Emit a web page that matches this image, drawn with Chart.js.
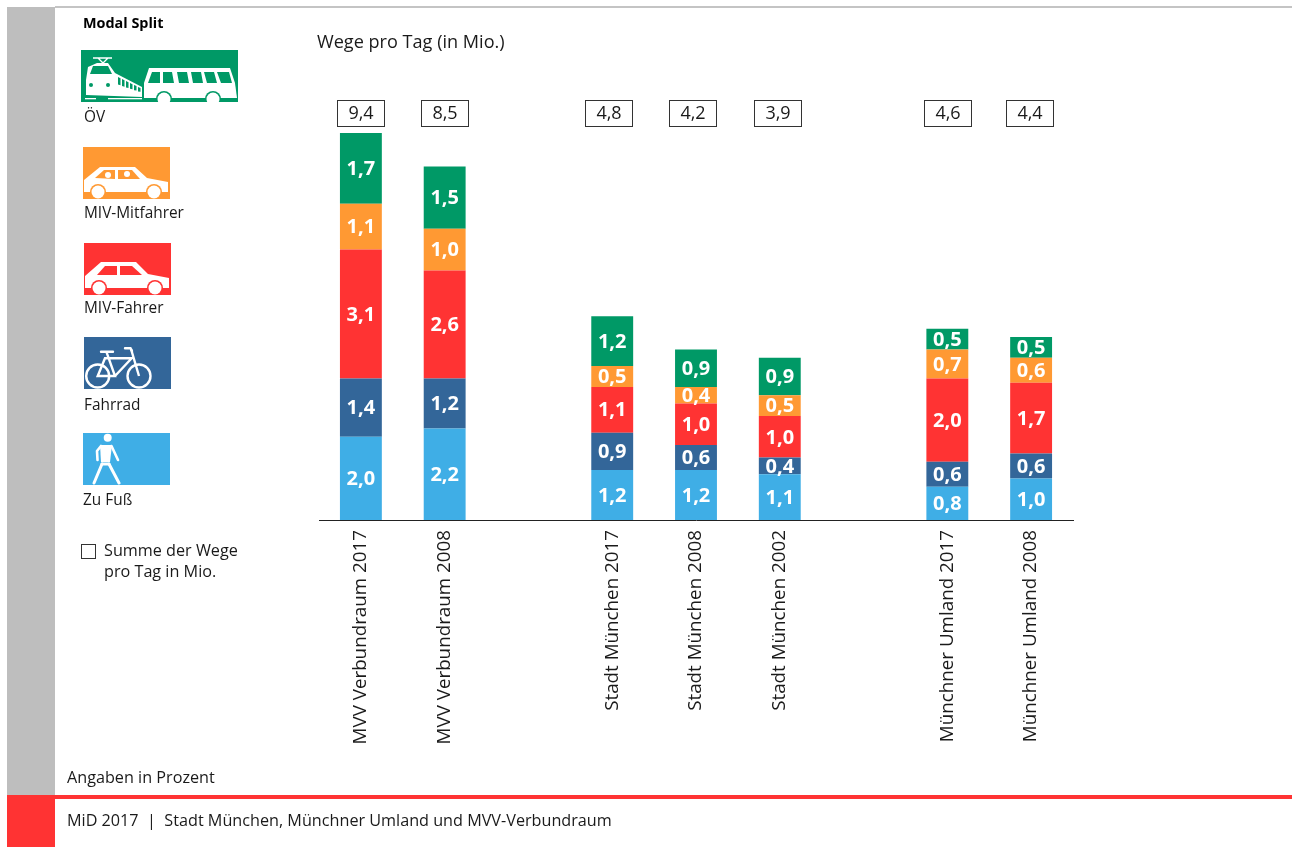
<!DOCTYPE html>
<html lang="de">
<head>
<meta charset="utf-8">
<title>Modal Split</title>
<script src="https://cdn.jsdelivr.net/npm/chart.js@4"></script>
<style>
html,body{margin:0;padding:0;background:#fff;width:1292px;height:847px;overflow:hidden;font-family:"Open Sans",sans-serif;color:#1a1a1a}
.a{position:absolute;white-space:nowrap;line-height:1}
#chart{position:absolute;left:0;top:0;width:1292px;height:847px}
svg{position:absolute;display:block}
</style>
</head>
<body>
<div class="a" style="left:7px;top:7px;width:48px;height:788px;background:#bebebe"></div>
<div class="a" style="left:55px;top:6px;width:1237px;height:2px;background:#c4c4c4"></div>
<div class="a" style="left:7px;top:795px;width:48px;height:52px;background:#ff3333"></div>
<div class="a" style="left:55px;top:795px;width:1237px;height:4px;background:#ff3333"></div>
<canvas id="chart" width="1292" height="847"></canvas>

<div class="a" style="left:83px;top:16px;font-size:14.4px;font-weight:700;color:#000">Modal Split</div>
<div class="a" style="left:317px;top:32px;font-size:18.1px">Wege pro Tag (in Mio.)</div>

<svg style="left:81px;top:50px" width="157" height="52" viewBox="0 0 157 52">
  <rect width="157" height="52" fill="#009966"/>
  <g fill="#fff">
    <path d="M5 30 7 17 16 13H27L34 23 61 37V47L5 45Z"/>
    <path d="M63 47V33L68 18H149L154 33 156 48H63Z"/>
    <rect x="4" y="48" width="57" height="1.3"/>
  </g>
  <path d="M12 8H31M17 8 22 13 27 8" stroke="#fff" stroke-width="1.3" fill="none"/>
  <g fill="#009966">
    <path d="M9 24 12 16H27L31 24Z"/>
    <circle cx="10" cy="35" r="2"/><circle cx="27" cy="35" r="2"/>
    <path d="M37 27l2.500 1.300v7l-2.500-.8zM41 29l2.500 1.300v6.500l-2.500-.7zM45 31l2.500 1.200v5.800l-2.500-.6zM49 33l2.500 1.200v5l-2.500-.4zM53 35l2.500 1.100v4.500l-2.500-.3zM57 37l2.500 1v3.800l-2.500-.2z"/>
    <path d="M67 33 71 22H79V33ZM82 22H91L93 33H82ZM96 22H106L108 33H98ZM110 22H120L122 33H112ZM123 22H133L136 33H126ZM136 22H148L151 33H140Z"/>
    <circle cx="83" cy="49" r="8"/><circle cx="132" cy="49" r="8"/>
    <rect x="15" y="47" width="12" height="3"/>
  </g>
  <circle cx="83" cy="49" r="6.500" fill="#fff"/><circle cx="132" cy="49" r="6.500" fill="#fff"/>
</svg>
<div class="a" style="left:84px;top:109px;font-size:15.4px">ÖV</div>

<svg style="left:83px;top:147px" width="87" height="52" viewBox="0 0 87 52">
  <rect width="87" height="52" fill="#ff9933"/>
  <path d="M1 33 17 20H52L64 31 85 35V45H1Z" fill="#fff"/>
  <g fill="#ff9933">
    <path d="M12 31 21 23H32V32Z"/><path d="M35 23H49L57 32H35Z"/>
    <circle cx="15" cy="45" r="8"/><circle cx="71" cy="45" r="8"/>
  </g>
  <g fill="#fff">
    <circle cx="25" cy="28" r="3"/><circle cx="44" cy="27" r="3"/>
    <circle cx="15" cy="45" r="6.500"/><circle cx="71" cy="45" r="6.500"/>
  </g>
</svg>
<div class="a" style="left:84px;top:205px;font-size:15.4px">MIV-Mitfahrer</div>

<svg style="left:84px;top:243px" width="87" height="52" viewBox="0 0 87 52">
  <rect width="87" height="52" fill="#ff3333"/>
  <path d="M1 33 17 19H52L64 31 85 35V45H1Z" fill="#fff"/>
  <g fill="#ff3333">
    <path d="M13 32 21 23H33V32Z"/><path d="M36 23H48L58 32H36Z"/>
    <circle cx="15" cy="45" r="8"/><circle cx="71" cy="45" r="8"/>
  </g>
  <g fill="#fff"><circle cx="15" cy="45" r="6.500"/><circle cx="71" cy="45" r="6.500"/></g>
</svg>
<div class="a" style="left:84px;top:300px;font-size:15.4px">MIV-Fahrer</div>

<svg style="left:84px;top:337px" width="87" height="52" viewBox="0 0 87 52">
  <rect width="87" height="52" fill="#336699"/>
  <g fill="none" stroke="#fff" stroke-width="2.400">
    <circle cx="13.700" cy="39" r="11.500"/><circle cx="55" cy="39" r="11.500"/>
    <path d="M22.700 15.700 31 39H13.700L21 21.300H47.700L31 39M47 12 55 39"/>
    <path d="M17 14.700H29M41 11.300H46.500L48 14" stroke-linecap="round"/>
  </g>
</svg>
<div class="a" style="left:84px;top:397px;font-size:15.4px">Fahrrad</div>

<svg style="left:83px;top:433px" width="87" height="52" viewBox="0 0 87 52">
  <rect width="87" height="52" fill="#3faee6"/>
  <circle cx="24.700" cy="4.700" r="4" fill="#fff"/>
  <path d="M17 12H29L27 29H18Z" fill="#fff"/>
  <g fill="none" stroke="#fff" stroke-width="2.600" stroke-linejoin="round" stroke-linecap="round">
    <path d="M18 13 14 18 14.500 27M28.500 13 35 27"/>
    <path d="M26 31 36 50" stroke-width="3"/><path d="M19 31 11 50" stroke-width="3"/>
    <path d="M19 31H26" stroke-width="3"/>
  </g>
</svg>
<div class="a" style="left:83px;top:492px;font-size:15.4px">Zu Fuß</div>

<div class="a" style="left:81px;top:544px;width:13px;height:13px;border:1px solid #333"></div>
<div class="a" style="left:104px;top:542px;font-size:16.2px">Summe der Wege</div>
<div class="a" style="left:104px;top:563px;font-size:16.2px">pro Tag in Mio.</div>

<div class="a" style="left:67px;top:769px;font-size:16.2px">Angaben in Prozent</div>
<div class="a" style="left:67px;top:812px;font-size:16.2px">MiD 2017&nbsp; |&nbsp; Stadt München, Münchner Umland und MVV-Verbundraum</div>

<script>
const categories = ["MVV Verbundraum 2017","MVV Verbundraum 2008","","Stadt München 2017","Stadt München 2008","Stadt München 2002","","Münchner Umland 2017","Münchner Umland 2008"];
const zuFuss      = [2.0,2.2,null,1.2,1.2,1.1,null,0.8,1.0];
const fahrrad     = [1.4,1.2,null,0.9,0.6,0.4,null,0.6,0.6];
const mivFahrer   = [3.1,2.6,null,1.1,1.0,1.0,null,2.0,1.7];
const mivMitfahrer= [1.1,1.0,null,0.5,0.4,0.5,null,0.7,0.6];
const oev         = [1.7,1.5,null,1.2,0.9,0.9,null,0.5,0.5];
const summen      = [9.4,8.5,null,4.8,4.2,3.9,null,4.6,4.4];

const FONT = '"Open Sans", sans-serif';
const BOX_NUDGE = [0.5,0,0,-3,-3,-2,0,1,-1];
const comma = v => v.toFixed(1).replace('.', ',');

const labelsPlugin = {
  id: 'labels',
  afterDatasetsDraw(chart) {
    const c = chart.ctx;
    c.save();
    c.textAlign = 'center';
    c.textBaseline = 'middle';
    c.fillStyle = '#fff';
    c.font = '700 20px ' + FONT;
    chart.data.datasets.forEach((ds, i) => {
      chart.getDatasetMeta(i).data.forEach((bar, j) => {
        if (ds.data[j] == null) return;
        const mid = (bar.y + bar.base) / 2;
        c.fillText(comma(ds.data[j]), bar.x, mid + 1);
      });
    });
    const xs = chart.scales.x;
    c.font = '400 18px ' + FONT;
    summen.forEach((v, j) => {
      if (v == null) return;
      const x = Math.round(xs.getPixelForValue(j) + BOX_NUDGE[j]);
      c.fillStyle = '#fff';
      c.strokeStyle = '#333';
      c.lineWidth = 1;
      c.fillRect(x - 23.5, 100.5, 47, 26);
      c.strokeRect(x - 23.5, 100.5, 47, 26);
      c.fillStyle = '#1a1a1a';
      c.fillText(comma(v), x, 114);
    });
    c.restore();
  }
};

const mk = (label, data, color) => ({label, data, backgroundColor: color, borderWidth: 0, barPercentage: 0.5, categoryPercentage: 1, stack: 's'});

new Chart(document.getElementById('chart'), {
  type: 'bar',
  data: {
    labels: categories,
    datasets: [
      mk('Zu Fuß', zuFuss, '#3faee6'),
      mk('Fahrrad', fahrrad, '#336699'),
      mk('MIV-Fahrer', mivFahrer, '#ff3333'),
      mk('MIV-Mitfahrer', mivMitfahrer, '#ff9933'),
      mk('ÖV', oev, '#009966')
    ]
  },
  options: {
    responsive: false,
    animation: false,
    events: [],
    layout: {padding: {left: 319, right: 219, top: 104, bottom: 0}},
    plugins: {legend: {display: false}, tooltip: {enabled: false}, title: {display: false}},
    scales: {
      y: {stacked: true, display: false, min: 0, max: 10},
      x: {
        stacked: true,
        grid: {display: false, drawTicks: false},
        border: {display: true, color: '#222', width: 1},
        afterFit(s) { s.height = 327; },
        ticks: {
          autoSkip: false, minRotation: 90, maxRotation: 90, padding: 10,
          color: '#1a1a1a', font: {family: FONT, size: 18.8}
        }
      }
    }
  },
  plugins: [labelsPlugin]
});
</script>
</body>
</html>
